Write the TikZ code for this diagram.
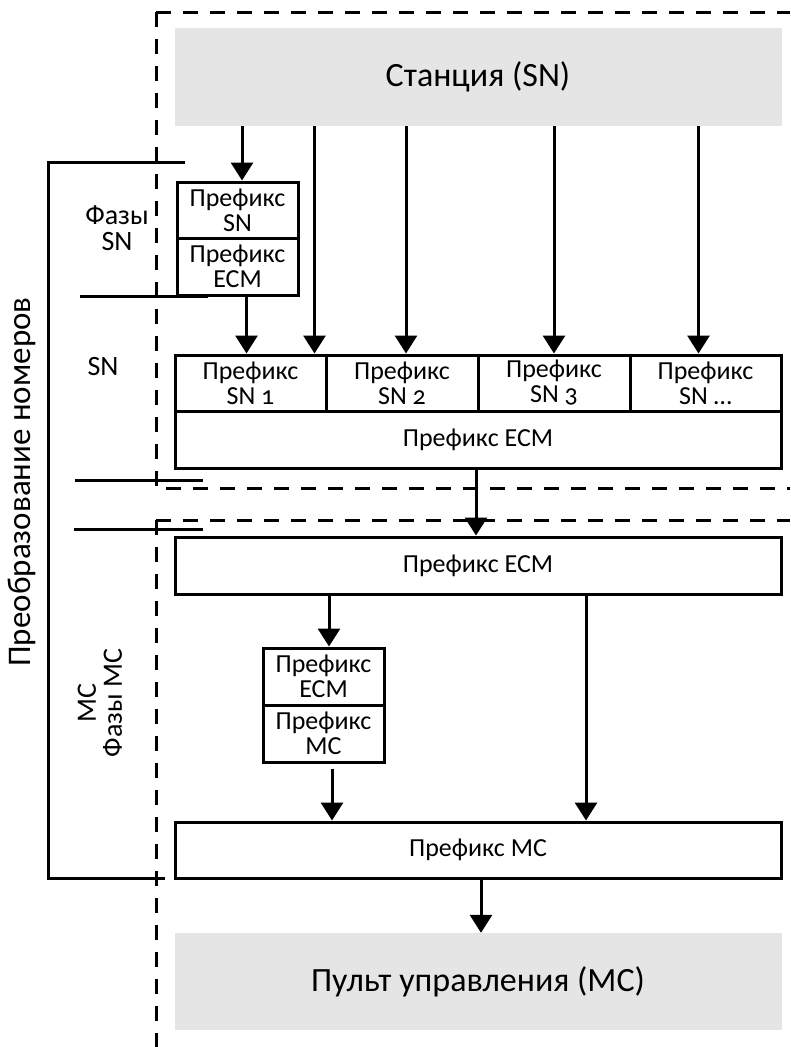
\documentclass[tikz,border=0pt]{standalone}
\usepackage{fontspec}
\setmainfont{Carlito}[Numbers=OldStyle]
\usetikzlibrary{arrows.meta,positioning}

\tikzset{
  box/.style={draw, line width=3pt, inner sep=0pt, align=center,
    font=\fontsize{26}{25}\selectfont},
  greybox/.style={fill=black!10, inner sep=0pt, align=center,
    minimum width=607pt, minimum height=98pt, font=\fontsize{34}{38}\selectfont},
  lbl/.style={inner sep=0pt, align=center, font=\fontsize{28}{26}\selectfont},
  arr/.style={-{Triangle[width=22pt,length=18pt]}, line width=3pt},
  dashline/.style={line width=3pt, dash pattern=on 15pt off 12pt},
  frame/.style={line width=3pt}
}

\begin{document}
\begin{tikzpicture}[x=1pt, y=-1pt]
  \useasboundingbox (0,0) rectangle (790,1047);

  % borders of the two sides
  \draw[dashline] (156,12) -- (790,12);
  \draw[dashline] (156,12) -- (156,488) -- (790,488);
  \draw[dashline] (156,520) -- (790,520);
  \draw[dashline] (156,520) -- (156,1047);

  % bracket for number conversion
  \draw[frame] (185,162) -- (48,162) -- (48,878) -- (165,878);
  \draw[frame] (80,296) -- (208,296);
  \draw[frame] (75,480) -- (203,480);
  \draw[frame] (74,529) -- (203,529);

  \node[greybox] (station) at (478,77) {Станция (SN)};

  \node[box, minimum width=121pt, minimum height=56pt] (snp) at (237.5,210) {Префикс\\SN};
  \node[box, minimum width=121pt, minimum height=57pt] (snecm) [below=-3pt of snp] {Префикс\\ECM};

  \node[box, minimum width=151pt, minimum height=56pt] (c1) at (250.5,383) {Префикс\\SN 1};
  \node[box, minimum width=152pt, minimum height=56pt] (c2) [right=-3pt of c1] {Префикс\\SN 2};
  \node[box, minimum width=152pt, minimum height=56pt] (c3) [right=-3pt of c2] {Префикс\\SN 3};
  \node[box, minimum width=151pt, minimum height=56pt] (c4) [right=-3pt of c3] {Префикс\\SN \dots};
  \node[box, minimum width=606pt, minimum height=57pt] (ecm1) at (478,439.5) {Префикс ECM};

  \node[box, minimum width=606pt, minimum height=57pt] (ecm2) at (478,565.5) {Префикс ECM};
  \node[box, minimum width=121pt, minimum height=57pt] (mcecm) at (323.5,676.5) {Префикс\\ECM};
  \node[box, minimum width=121pt, minimum height=57pt] (mcp) [below=-3pt of mcecm] {Префикс\\MC};
  \node[box, minimum width=606pt, minimum height=56pt] (mcbox) at (478,850) {Префикс MC};

  \node[greybox, minimum height=97pt] (pult) at (478,981.5) {Пульт управления (MC)};

  % side labels
  \node[lbl] (phsn) at (117,228) {Фазы\\SN};
  \node[lbl] (sn) at (103,367) {SN};
  \node[lbl, rotate=90] (phmc) at (100,703) {MC\\Фазы MC};
  \node[lbl, rotate=90, font=\fontsize{33}{36}\selectfont] (conv) at (22,482) {Преобразование номеров};

  \draw[arr] ([xshift=4.5pt]station.south -| snp.north) -- ([xshift=4.5pt]snp.north);
  \draw[arr] ([xshift=9pt]snecm.south) -- ([xshift=9pt]snecm.south |- c1.north);
  \draw[arr] ([xshift=-13pt]c1.north east |- station.south) -- ([xshift=-13pt]c1.north east);
  \draw[arr] ([xshift=4pt]station.south -| c2.north) -- ([xshift=4pt]c2.north);
  \draw[arr] (station.south -| c3.north) -- (c3.north);
  \draw[arr] ([xshift=-7pt]station.south -| c4.north) -- ([xshift=-7pt]c4.north);
  \draw[arr] ([xshift=-2pt]ecm1.south) -- ([xshift=-2pt]ecm2.north);
  \draw[arr] ([xshift=5.5pt]ecm2.south -| mcecm.north) -- ([xshift=5.5pt]mcecm.north);
  \draw[arr] ([xshift=8.5pt,yshift=-5pt]mcp.south) -- ([xshift=8.5pt]mcp.south |- mcbox.north);
  \draw[arr] ([xshift=108pt]ecm2.south) -- ([xshift=108pt]mcbox.north);
  \draw[arr] ([xshift=3pt]mcbox.south) -- ([xshift=3pt]pult.north);
\end{tikzpicture}
\end{document}
